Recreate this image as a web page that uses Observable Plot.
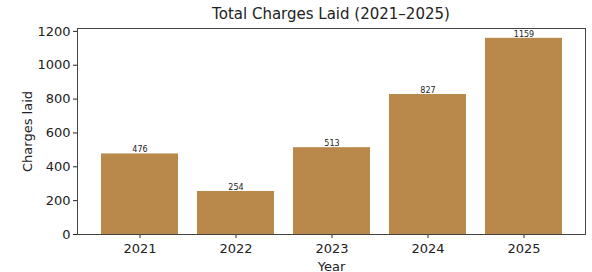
<!DOCTYPE html>
<html>
<head>
<meta charset="utf-8">
<script src="https://cdn.jsdelivr.net/npm/d3@7"></script>
<script src="https://cdn.jsdelivr.net/npm/@observablehq/plot@0.6"></script>
<style>
  body { margin: 0; background: #fff; }
  #title { box-sizing: border-box; width: 592px; height: 22px; padding: 6px 7px 0 77px; text-align: center;
           font-family: "DejaVu Sans", sans-serif; font-size: 15px; line-height: 16px; color: #222; }
</style>
</head>
<body>
<div id="title">Total Charges Laid (2021–2025)</div>
<div id="chart"></div>
<script>
const years = ["2021", "2022", "2023", "2024", "2025"];
const charges = [476, 254, 513, 827, 1159];
const yTicks = [0, 200, 400, 600, 800, 1000, 1200];
const barColor = "#b8894a";

const data = years.map((year, i) => ({year, charges: charges[i]}));

const chart = Plot.plot({
  width: 592,
  height: 250,
  marginLeft: 77,
  marginRight: 7,
  marginTop: 6,
  marginBottom: 38,
  style: {fontFamily: "DejaVu Sans, sans-serif", fontSize: "13px", color: "#222", background: "white"},
  x: {domain: years, paddingInner: 0.2, paddingOuter: 0.245, align: 0.5},
  y: {domain: [0, 1217]},
  marks: [
    Plot.barY(data, {x: "year", y: "charges", fill: barColor}),
    Plot.text(data, {x: "year", y: "charges", text: d => String(d.charges), dy: -4, fontSize: 8, fill: "#222"}),
    Plot.axisX({tickSize: 4, tickPadding: 5, label: "Year", labelAnchor: "center", labelArrow: "none", labelOffset: 36}),
    Plot.axisY({ticks: yTicks, tickFormat: d => String(d), tickSize: 4, tickPadding: 3, label: "Charges laid", labelAnchor: "center", labelArrow: "none", labelOffset: 55}),
    Plot.frame({stroke: "#444"})
  ]
});
document.getElementById("chart").appendChild(chart);
</script>
</body>
</html>
